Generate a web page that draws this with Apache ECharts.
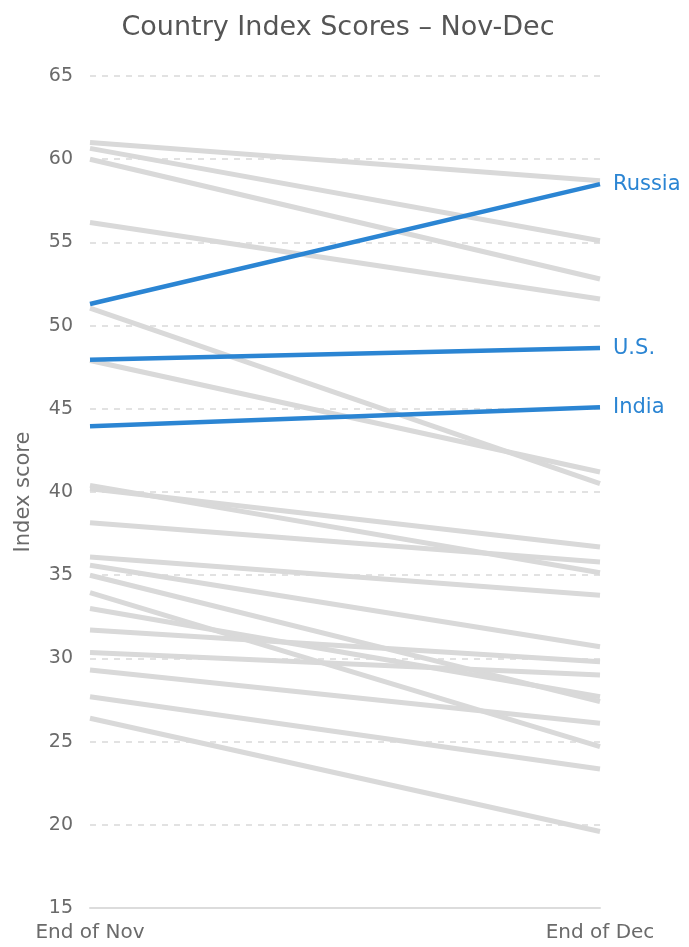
<!DOCTYPE html>
<html>
<head>
<meta charset="utf-8">
<title>Country Index Scores</title>
<script src="https://cdn.jsdelivr.net/npm/echarts@6/dist/echarts.min.js"></script>
<style>
  html, body { margin: 0; padding: 0; background: #fff; }
  #chart { width: 689px; height: 947px; }
</style>
</head>
<body>
<div id="chart"></div>
<script>
const categories = ["End of Nov", "End of Dec"];

// background countries (grey), start and end scores
const greyStart = [61.0, 60.65, 60.0, 56.2, 51.05, 47.9, 40.4, 40.2, 38.15, 36.1,
  35.6, 35.0, 33.95, 33.0, 31.7, 30.35, 29.3, 27.7, 26.4];
const greyEnd = [58.7, 55.1, 52.8, 51.6, 40.5, 41.2, 35.15, 36.7, 35.8, 33.8,
  30.7, 27.4, 24.7, 27.7, 29.8, 29.0, 26.1, 23.35, 19.6];

// highlighted countries
const highlightNames = ["Russia", "U.S.", "India"];
const highlightStart = [51.3, 47.95, 43.95];
const highlightEnd = [58.5, 48.65, 45.1];

const yTicks = { min: 15, max: 65, interval: 5 };

const grey = "#d9d9d9";
const blue = "#2b85d3";
const font = "'DejaVu Sans', sans-serif";

const series = [];
greyStart.forEach((s, i) => {
  series.push({
    type: "line",
    data: [s, greyEnd[i]],
    symbol: "none",
    silent: true,
    z: 2,
    lineStyle: { color: grey, width: 5 },
  });
});
highlightNames.forEach((name, i) => {
  series.push({
    name: name,
    type: "line",
    data: [highlightStart[i], highlightEnd[i]],
    symbol: "none",
    z: 3,
    lineStyle: { color: blue, width: 4.5 },
    endLabel: {
      show: true,
      formatter: "{a}",
      color: blue,
      fontSize: 21,
      fontFamily: font,
      distance: 13,
    },
  });
});

const chart = echarts.init(document.getElementById("chart"));
chart.setOption({
  backgroundColor: "#fff",
  animation: false,
  title: {
    text: "Country Index Scores – Nov-Dec",
    left: 333,
    textAlign: "center",
    top: 9,
    textStyle: {
      color: "#555",
      fontSize: 27,
      fontWeight: "normal",
      fontFamily: font,
    },
  },
  grid: { left: 90, right: 89, top: 76, bottom: 39 },
  xAxis: {
    type: "category",
    data: categories,
    boundaryGap: false,
    axisLine: { lineStyle: { color: "#dcdcdc", width: 2 } },
    axisTick: { show: false },
    axisLabel: {
      color: "#6a6a6a",
      fontSize: 20,
      fontFamily: font,
      margin: 15,
    },
  },
  yAxis: {
    type: "value",
    min: yTicks.min,
    max: yTicks.max,
    interval: yTicks.interval,
    name: "Index score",
    nameLocation: "middle",
    nameGap: 56,
    nameTextStyle: { color: "#6a6a6a", fontSize: 21, fontFamily: font },
    axisLine: { show: false },
    axisTick: { show: false },
    axisLabel: { color: "#6a6a6a", fontSize: 19, fontFamily: font, margin: 17 },
    splitLine: { lineStyle: { color: "#d9d9d9", type: [6, 6], width: 1.5 } },
  },
  series: series,
});
</script>
</body>
</html>
